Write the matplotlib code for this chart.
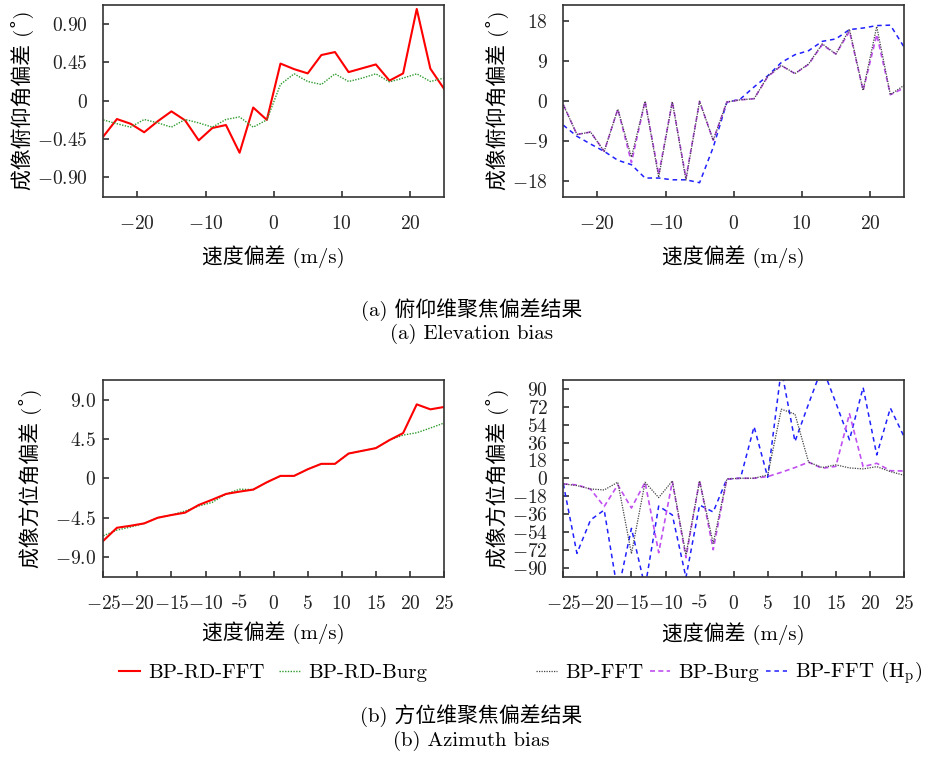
import matplotlib
matplotlib.use('Agg')
import matplotlib.pyplot as plt

plt.rcParams['font.family'] = ['cmr10', 'DejaVu Serif', 'Noto Sans CJK SC']
plt.rcParams['mathtext.fontset'] = 'cm'
plt.rcParams['axes.unicode_minus'] = True

# speed bias (m/s)
speed = [-25, -23, -21, -19, -17, -15, -13, -11, -9, -7, -5, -3, -1,
         1, 3, 5, 7, 9, 11, 13, 15, 17, 19, 21, 23, 25]

# (a) elevation bias, left panel
elev_rd_fft = [-0.42, -0.215, -0.27, -0.37, -0.24, -0.125, -0.23, -0.465, -0.32, -0.285, -0.61, -0.08, -0.225,
               0.435, 0.37, 0.32, 0.535, 0.57, 0.335, 0.38, 0.425, 0.235, 0.32, 1.075, 0.375, 0.14]
elev_rd_burg = [-0.225, -0.27, -0.31, -0.22, -0.26, -0.31, -0.22, -0.26, -0.31, -0.22, -0.19, -0.31, -0.225,
                0.19, 0.315, 0.225, 0.19, 0.315, 0.225, 0.265, 0.315, 0.22, 0.265, 0.315, 0.225, 0.265]

# (a) elevation bias, right panel
elev_fft = [-0.9, -7.6, -7.05, -11.4, -1.9, -12.7, -0.1, -17.25, -0.2, -17.85, -0.15, -8.9, -0.3,
            0.2, 0.45, 5.5, 7.95, 6.1, 8.25, 12.8, 10.5, 16.1, 2.3, 16.7, 1.35, 3.45]
elev_burg = [-0.9, -7.6, -7.05, -11.4, -1.9, -13.9, -0.1, -16.6, -0.2, -17.4, -0.15, -8.9, -0.3,
             0.2, 0.45, 5.4, 7.9, 6.1, 8.2, 12.6, 10.5, 15.6, 2.3, 14.85, 1.35, 2.85]
elev_fft_hp = [-5.5, -8.0, -9.75, -11.4, -13.4, -14.4, -17.4, -17.4, -17.8, -17.8, -18.45, -10.5, -0.4,
               0.4, 3.1, 5.6, 8.6, 10.35, 11.25, 13.35, 13.9, 16.0, 16.35, 16.9, 17.0, 12.1]

# (b) azimuth bias, left panel
azim_rd_fft = [-7.16, -5.67, -5.44, -5.17, -4.52, -4.21, -3.94, -3.06, -2.45, -1.80, -1.53, -1.30, -0.46,
               0.27, 0.27, 1.03, 1.65, 1.65, 2.83, 3.14, 3.45, 4.37, 5.17, 8.46, 7.89, 8.16]
azim_rd_burg = [-6.59, -5.94, -5.59, -5.17, -4.52, -4.21, -3.75, -3.18, -2.76, -1.80, -1.26, -1.30, -0.46,
                0.27, 0.27, 1.03, 1.65, 1.65, 2.83, 3.14, 3.45, 4.37, 4.94, 5.21, 5.75, 6.32]

# (b) azimuth bias, right panel
azim_fft = [-5.7, -7.4, -10.8, -11.8, -4.0, -76, -4.0, -19.5, -2.7, -77, -2.7, -65.6, -0.7,
            0, 0, 3.4, 69.6, 64.6, 16.2, 10.8, 13.5, 10.4, 9.4, 11.7, 6.7, 3.0]
azim_burg = [-5.7, -6.7, -11, -28.5, -6.7, -30, -4, -75, -3.4, -80, -2.0, -72, -0.7,
             0, 0, 1.7, 6, 10.8, 16.2, 10, 12, 65, 11.7, 15.1, 7.6, 7.3]
azim_fft_hp = [-5.7, -75.7, -42, -32, -115, -50.5, -110, -28, -37, -100, -27, -34, -0.7,
               0, 52, 1, 110, 37, 75, 112, 76, 38.7, 91.5, 23.5, 70.7, 42]

xticks_a = [-20, -10, 0, 10, 20]
xticklabels_a = [r'$-20$', r'$-10$', r'$0$', r'$10$', r'$20$']
xticks_b = [-25, -20, -15, -10, -5, 0, 5, 10, 15, 20, 25]
xticklabels_b = [r'$-25$', r'$-20$', r'$-15$', r'$-10$', '-5', r'$0$', r'$5$', r'$10$', r'$15$', r'$20$', r'$25$']

yticks_a1 = [-0.90, -0.45, 0, 0.45, 0.90]
yticklabels_a1 = [r'$-0.90$', r'$-0.45$', r'$0$', r'$0.45$', r'$0.90$']
yticks_a2 = [-18, -9, 0, 9, 18]
yticklabels_a2 = [r'$-18$', r'$-9$', r'$0$', r'$9$', r'$18$']
yticks_b1 = [-9.0, -4.5, 0, 4.5, 9.0]
yticklabels_b1 = [r'$-9.0$', r'$-4.5$', r'$0$', r'$4.5$', r'$9.0$']
yticks_b2 = [-90, -72, -54, -36, -18, 0, 18, 36, 54, 72, 90]
yticklabels_b2 = [r'$-90$', r'$-72$', r'$-54$', r'$-36$', r'$-18$', r'$0$',
                  r'$18$', r'$36$', r'$54$', r'$72$', r'$90$']

W, H = 928, 758
fig = plt.figure(figsize=(W / 100, H / 100), dpi=100)


def box(l, t, r, b):
    return [l / W, 1 - b / H, (r - l) / W, (b - t) / H]


ax1 = fig.add_axes(box(103.3, 4.7, 444, 196.7))
ax2 = fig.add_axes(box(563.3, 4.7, 904, 196.7))
ax3 = fig.add_axes(box(103.3, 380, 444, 576.5))
ax4 = fig.add_axes(box(563.3, 380, 904, 576.5))

red = dict(color='#ff0000', lw=1.5, ls='-')
green = dict(color='#2f9a2f', lw=1.0, ls=(0, (1, 1)))
gray = dict(color='#444444', lw=0.9, ls=(0, (1, 1)))
violet = dict(color='#c050f0', lw=1.2, ls=(0, (3, 2)))
blue = dict(color='#2020ff', lw=1.1, ls=(0, (3, 2.5)))

h_rd_fft, = ax1.plot(speed, elev_rd_fft, **red)
h_rd_burg, = ax1.plot(speed, elev_rd_burg, **green)

ax2.plot(speed, elev_fft_hp, **blue)
ax2.plot(speed, elev_burg, **violet)
ax2.plot(speed, elev_fft, **gray)

ax3.plot(speed, azim_rd_burg, **green)
ax3.plot(speed, azim_rd_fft, **red)

h_hp, = ax4.plot(speed, azim_fft_hp, **blue)
h_burg, = ax4.plot(speed, azim_burg, **violet)
h_fft, = ax4.plot(speed, azim_fft, **gray)

# U+02DA: cmr10 maps U+00B0 to a ligature, so use the ring above from the fallback font
ylabel_elev = '成像俯仰角偏差 (\u02da)'
ylabel_azim = '成像方位角偏差 (\u02da)'
xlabel = '速度偏差 (m/s)'

setup = [
    (ax1, 1.125, xticks_a, xticklabels_a, yticks_a1, yticklabels_a1, ylabel_elev, 11, -0.236, -0.314),
    (ax2, 21.6, xticks_a, xticklabels_a, yticks_a2, yticklabels_a2, ylabel_elev, 11, -0.192, -0.314),
    (ax3, 11.25, xticks_b, xticklabels_b, yticks_b1, yticklabels_b1, ylabel_azim, 5, -0.215, -0.285),
    (ax4, 99, xticks_b, xticklabels_b, yticks_b2, yticklabels_b2, ylabel_azim, 11, -0.192, -0.288),
]
for ax, ylim, xt, xtl, yt, ytl, ylab, ypad, ylx, xly in setup:
    ax.set_xlim(-25, 25)
    ax.set_ylim(-ylim, ylim)
    ax.set_xticks(xt)
    ax.set_xticklabels(xtl)
    ax.set_yticks(yt)
    ax.set_yticklabels(ytl)
    ax.tick_params(direction='in', length=4.5, width=1.1, top=False, right=False,
                   labelsize=14, colors='#222222')
    ax.tick_params(axis='x', pad=13)
    ax.tick_params(axis='y', pad=ypad)
    for s in ax.spines.values():
        s.set_linewidth(1.2)
        s.set_color('#333333')
    ax.set_ylabel(ylab, fontsize=15, va='center')
    ax.yaxis.set_label_coords(ylx, 0.5)
    ax.set_xlabel(xlabel, fontsize=15, va='center')
    ax.xaxis.set_label_coords(0.5, xly)

leg_kw = dict(loc='center left', frameon=False, fontsize=15, handlelength=1.0,
              handletextpad=0.4, borderpad=0, borderaxespad=0)
fig.legend([h_rd_fft, h_rd_burg], ['BP-RD-FFT', 'BP-RD-Burg'], ncol=2, columnspacing=0.7,
           bbox_to_anchor=(119 / W, 1 - 673 / H), **leg_kw)
fig.legend([h_fft, h_burg, h_hp], ['BP-FFT', 'BP-Burg', r'BP-FFT (H$_\mathrm{p}$)'], ncol=3,
           columnspacing=0.3, bbox_to_anchor=(536 / W, 1 - 673 / H), **leg_kw)

fig.text(0.508, 1 - 310 / H, '(a) 俯仰维聚焦偏差结果', ha='center', va='center', fontsize=15)
fig.text(0.508, 1 - 334 / H, '(a) Elevation bias', ha='center', va='center', fontsize=15)
fig.text(0.508, 1 - 716 / H, '(b) 方位维聚焦偏差结果', ha='center', va='center', fontsize=15)
fig.text(0.508, 1 - 741 / H, '(b) Azimuth bias', ha='center', va='center', fontsize=15)

fig.savefig('out.png', dpi=100)
